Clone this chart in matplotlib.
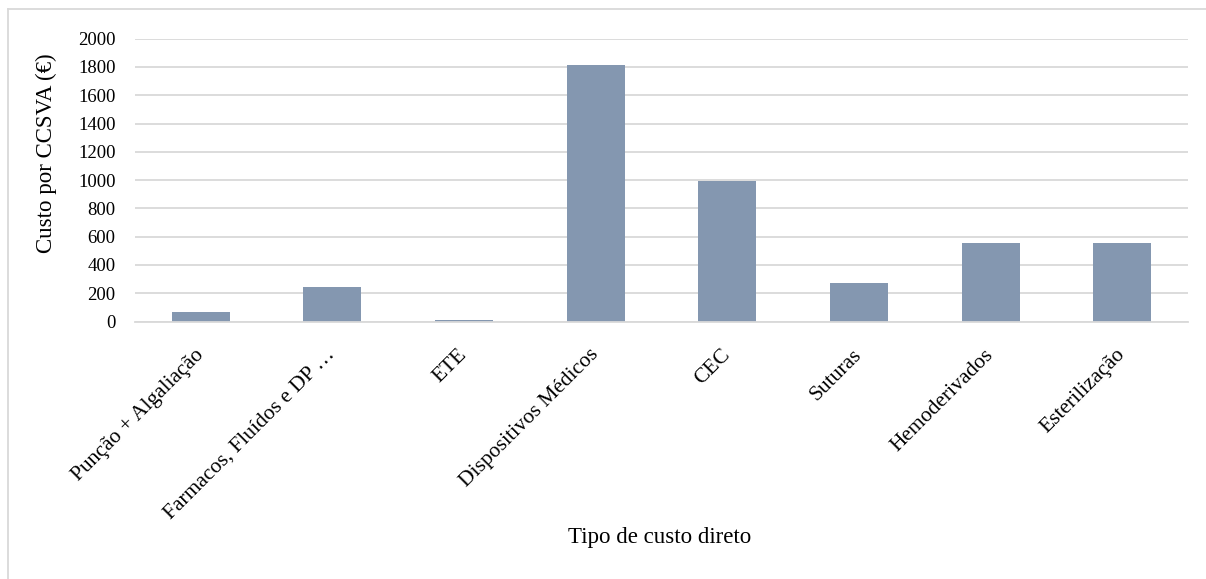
import matplotlib
matplotlib.use("Agg")
import matplotlib.pyplot as plt
from matplotlib.lines import Line2D

categories = [
    "Punção + Algaliação",
    "Farmacos, Fluídos e DP …",
    "ETE",
    "Dispositivos Médicos",
    "CEC",
    "Suturas",
    "Hemoderivados",
    "Esterilização",
]
values = [66, 242, 9, 1816, 995, 274, 553, 553]
y_ticks = [0, 200, 400, 600, 800, 1000, 1200, 1400, 1600, 1800, 2000]

plt.rcParams["font.family"] = ["Liberation Serif", "DejaVu Serif"]

W, H = 1206, 579
fig = plt.figure(figsize=(W / 100, H / 100), dpi=100)
ax = fig.add_axes([135 / W, 1 - 321.5 / H, (1188 - 135) / W, (321.5 - 38.7) / H])

x = list(range(len(categories)))
ax.bar(x, values, width=0.44, color="#8497B0", zorder=2)

ax.set_xlim(-0.5, len(categories) - 0.5)
ax.set_ylim(0, 2000)
ax.set_yticks(y_ticks)
ax.set_yticklabels([str(v) for v in y_ticks], fontsize=13.5)
ax.yaxis.grid(True, color="#D9D9D9", linewidth=1.3, zorder=0)
ax.set_axisbelow(True)

ax.set_xticks(x)
ax.set_xticklabels(categories, rotation=45, ha="right", va="center",
                   rotation_mode="anchor", fontsize=15.5)
ax.tick_params(axis="x", length=0, pad=22)
ax.tick_params(axis="y", length=0, pad=14)

for side in ("top", "right", "left"):
    ax.spines[side].set_visible(False)
ax.spines["bottom"].set_color("#D9D9D9")
ax.spines["bottom"].set_linewidth(1.3)
ax.spines["bottom"].set_zorder(3)

fig.text(46 / W, 1 - 153 / H, "Custo por CCSVA (€)", rotation=90,
         ha="center", va="center", fontsize=16.5)
fig.text(660 / W, 1 - 537 / H, "Tipo de custo direto", ha="center", va="center",
         fontsize=16.5)

# chart frame
fig.add_artist(Line2D([8 / W, 8 / W], [0, 1 - 9 / H], transform=fig.transFigure,
                      color="#D9D9D9", linewidth=1.3))
fig.add_artist(Line2D([8 / W, 1], [1 - 9 / H, 1 - 9 / H], transform=fig.transFigure,
                      color="#D9D9D9", linewidth=1.3))

fig.savefig("out.png", dpi=100, facecolor="white")
